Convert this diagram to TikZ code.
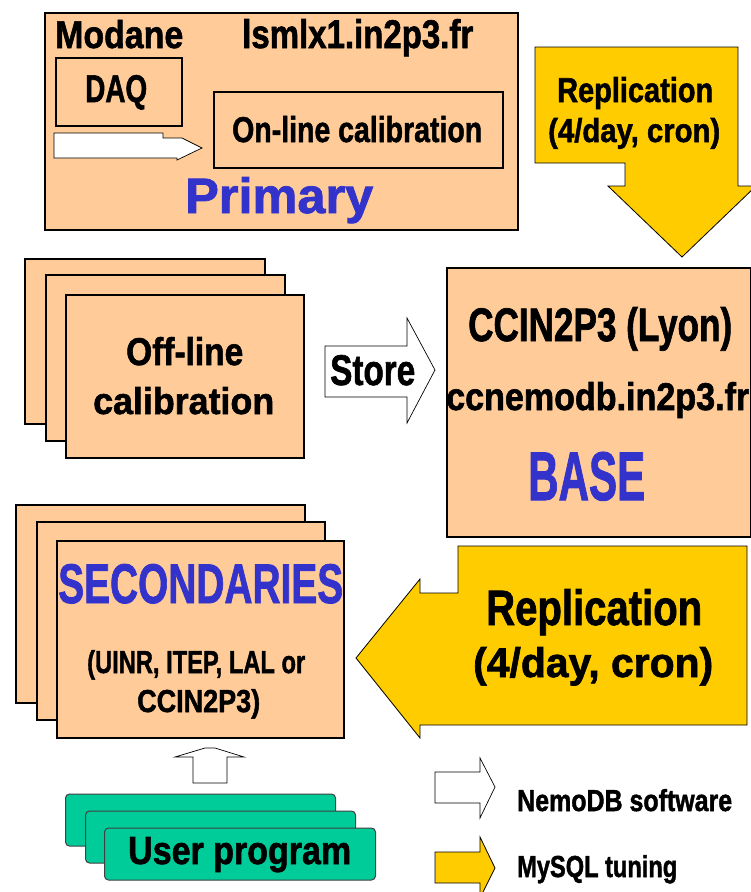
\documentclass[tikz,border=0pt]{standalone}
\usepackage{fontspec}
\setmainfont{Liberation Sans}[BoldFeatures={FakeBold=1.6}]
\usepackage{graphicx}
\definecolor{peach}{HTML}{FFCC99}
\definecolor{gold}{HTML}{FFCC00}
\definecolor{royal}{HTML}{3333CC}
\definecolor{mint}{HTML}{00CC99}
\newcommand\fitt[3]{\resizebox{#1pt}{#2pt}{\bfseries #3}}
\tikzset{
  box/.style={draw=black, fill=peach, line width=2.8pt, inner sep=0pt, anchor=north west},
  greenbox/.style={draw=black!75, fill=mint, line width=1pt, rounded corners=4pt, inner sep=0pt, anchor=north west, minimum width=270pt, minimum height=52pt},
  whitearrow/.style={draw=black, fill=white, line width=0.7pt, line join=miter},
  goldarrow/.style={draw=black, fill=gold, line width=0.8pt, line join=miter},
  lbl/.style={inner sep=0pt, anchor=base west},
}
\begin{document}
\begin{tikzpicture}[x=1pt,y=-1pt]
\clip (0,0) rectangle (751,892);
\fill[white] (0,0) rectangle (751,892);

% ---------- Primary ----------
\node[box, minimum width=473pt, minimum height=217pt] (primary) at (43.5,11.5) {};
\node[box, minimum width=126pt, minimum height=68pt] (daq) at (54.5,56.5) {};
\node[box, minimum width=289pt, minimum height=76pt] (online) at (212.5,90.5) {};
\draw[whitearrow] (54,133) -- (163,133) -- (163,138) -- (182,138) -- (202,148) -- (177,160) -- (177,158) -- (54,158) -- cycle;
\node[lbl] (tmodane) at (55,48) {\fitt{128}{28}{Modane}};
\node[lbl] (tlsm) at (242,48) {\fitt{231}{29}{lsmlx1.in2p3.fr}};
\node[lbl] (tdaq) at (85,102) {\fitt{62}{27}{DAQ}};
\node[lbl] (tonline) at (232,142) {\fitt{250}{26}{On-line calibration}};
\node[lbl, text=royal] (tprimary) at (185,213) {\fitt{188}{36}{Primary}};

% ---------- top replication arrow ----------
\draw[goldarrow] (535,47) -- (738,47) -- (738,186) -- (756,186) -- (682,257) -- (608,186) -- (625,186) -- (625,163) -- (535,163) -- cycle;
\node[lbl] (trep1) at (557,102) {\fitt{156}{25}{Replication}};
\node[lbl] (tcron1) at (548,142) {\fitt{172}{24}{(4/day, cron)}};

% ---------- Off-line stack ----------
\node[box, minimum width=240pt, minimum height=165pt] (off3) at (23.5,257.5) {};
\node[box, minimum width=239pt, minimum height=166pt] (off2) at (44.5,273.5) {};
\node[box, minimum width=238pt, minimum height=163pt] (off1) at (64.5,293.5) {};
\node[lbl] (toff) at (126,365) {\fitt{117}{28}{Off-line}};
\node[lbl] (tcal) at (93,414) {\fitt{181}{27}{calibration}};

% ---------- Store arrow ----------
\draw[whitearrow] (325,346) -- (407,346) -- (407,318) -- (435,370) -- (407,423) -- (407,397) -- (325,397) -- cycle;
\node[lbl] (tstore) at (330,385) {\fitt{85}{30}{Store}};

% ---------- Base ----------
\node[box, minimum width=304pt, minimum height=269pt] (base) at (445.5,266.5) {};
\node[lbl] (tcc) at (468,341) {\fitt{264}{34}{CCIN2P3 (Lyon)}};
\node[lbl] (tccn) at (446,410) {\fitt{303}{28}{ccnemodb.in2p3.fr}};
\node[lbl, text=royal] (tbase) at (528,500) {\fitt{117}{48}{BASE}};

% ---------- bottom replication arrow ----------
\draw[goldarrow] (458,546) -- (747,546) -- (747,725) -- (420,725) -- (420,738) -- (356,658) -- (420,579) -- (420,593) -- (458,593) -- cycle;
\node[lbl] (trep2) at (486,625) {\fitt{216}{36}{Replication}};
\node[lbl] (tcron2) at (473,677) {\fitt{240}{30}{(4/day, cron)}};

% ---------- Secondaries stack ----------
\node[box, minimum width=289pt, minimum height=198pt] (sec3) at (14.5,503.5) {};
\node[box, minimum width=288pt, minimum height=198pt] (sec2) at (35.5,520.5) {};
\node[box, minimum width=287pt, minimum height=197pt] (sec1) at (55.5,539.5) {};
\node[lbl, text=royal] (tsec) at (58,603) {\fitt{285}{39}{SECONDARIES}};
\node[lbl] (tuinr) at (87,673) {\fitt{218}{23}{(UINR, ITEP, LAL or}};
\node[lbl] (tccin) at (137,712) {\fitt{123}{23}{CCIN2P3)}};

% ---------- up arrow ----------
\draw[whitearrow] (193,783) -- (193,757) -- (175,757) -- (205,748) -- (215,748) -- (244,757) -- (227,757) -- (227,783) -- cycle;

% ---------- User program stack ----------
\node[greenbox] (usr3) at (65,793.5) {};
\node[greenbox] (usr2) at (85,810.5) {};
\node[greenbox, minimum width=271pt] (usr1) at (104,827.5) {};
\node[lbl] (tusr) at (128,864) {\fitt{223}{27}{User program}};

% ---------- legend ----------
\draw[whitearrow] (435,772) -- (480,772) -- (480,758) -- (495,787) -- (480,818) -- (480,803) -- (435,803) -- cycle;
\node[lbl] (tnemo) at (517,811) {\fitt{215}{22}{NemoDB software}};
\draw[goldarrow] (435,852) -- (480,852) -- (480,837) -- (495,868) -- (480,898) -- (480,883) -- (435,883) -- cycle;
\node[lbl] (tmysql) at (517,877) {\fitt{160}{22}{MySQL tuning}};
\end{tikzpicture}
\end{document}
